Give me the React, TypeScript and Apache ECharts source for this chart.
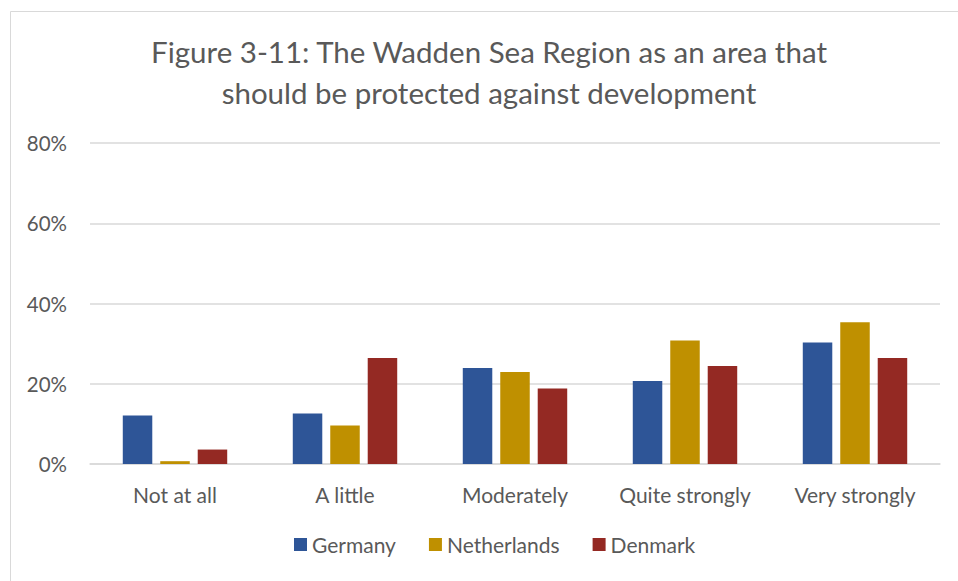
import React, { useEffect, useRef } from "react";
import * as echarts from "echarts";

const categories = ["Not at all", "A little", "Moderately", "Quite strongly", "Very strongly"];
const germany = [12.1, 12.6, 23.9, 20.7, 30.3];
const netherlands = [0.7, 9.6, 22.9, 30.8, 35.3];
const denmark = [3.6, 26.4, 18.8, 24.4, 26.4];
const seriesNames = ["Germany", "Netherlands", "Denmark"];
const titleText = "Figure 3-11: The Wadden Sea Region as an area that\nshould be protected against development";

const FONT = "Lato, 'Open Sans', sans-serif";

export default function App() {
  const ref = useRef<HTMLDivElement>(null);
  useEffect(() => {
    if (!ref.current) return;
    const chart = echarts.init(ref.current, null, { renderer: "svg" });
    const colors = ["#2E5597", "#BF9000", "#942923"];
    const data = [germany, netherlands, denmark];
    chart.setOption({
      animation: false,
      color: colors,
      textStyle: { fontFamily: FONT },
      graphic: [
        {
          type: "rect",
          silent: true,
          shape: { x: 10.5, y: 11.5, width: 1000, height: 1000 },
          style: { fill: "none", stroke: "#d9d9d9", lineWidth: 1 },
        },
        {
          type: "text",
          x: 489,
          y: 72,
          style: {
            text: titleText,
            fontFamily: FONT,
            fontSize: 29.5,
            fill: "#595959",
            align: "center",
            verticalAlign: "middle",
            lineHeight: 41,
          },
        },
      ],
      grid: { left: 90, right: 18, top: 143, bottom: 117, containLabel: false },
      legend: {
        data: seriesNames,
        bottom: 21,
        left: 289,
        itemWidth: 13,
        itemHeight: 13,
        itemGap: 33,
        icon: "rect",
        textStyle: { fontFamily: FONT, fontSize: 21, color: "#595959", padding: [0, 0, 0, 0] },
      },
      xAxis: {
        type: "category",
        data: categories,
        axisLine: { lineStyle: { color: "#d9d9d9", width: 1.5 } },
        axisTick: { show: false },
        axisLabel: { interval: 0, hideOverlap: false, fontFamily: FONT, fontSize: 21, color: "#595959", margin: 20 },
      },
      yAxis: {
        type: "value",
        min: 0,
        max: 80,
        interval: 20,
        axisLine: { show: false },
        axisTick: { show: false },
        splitLine: { lineStyle: { color: "#d9d9d9", width: 1.5 } },
        axisLabel: { formatter: "{value}%", fontFamily: FONT, fontSize: 20.5, color: "#595959", margin: 23 },
      },
      series: seriesNames.map((name, i) => ({
        name,
        type: "bar",
        data: data[i],
        barWidth: 29.5,
        barGap: "27%",
        itemStyle: { color: colors[i] },
      })),
    });
    return () => chart.dispose();
  }, []);
  return (
    <div
      ref={ref}
      style={{ position: "fixed", left: 0, top: 0, width: 958, height: 581, background: "#fff" }}
    />
  );
}
